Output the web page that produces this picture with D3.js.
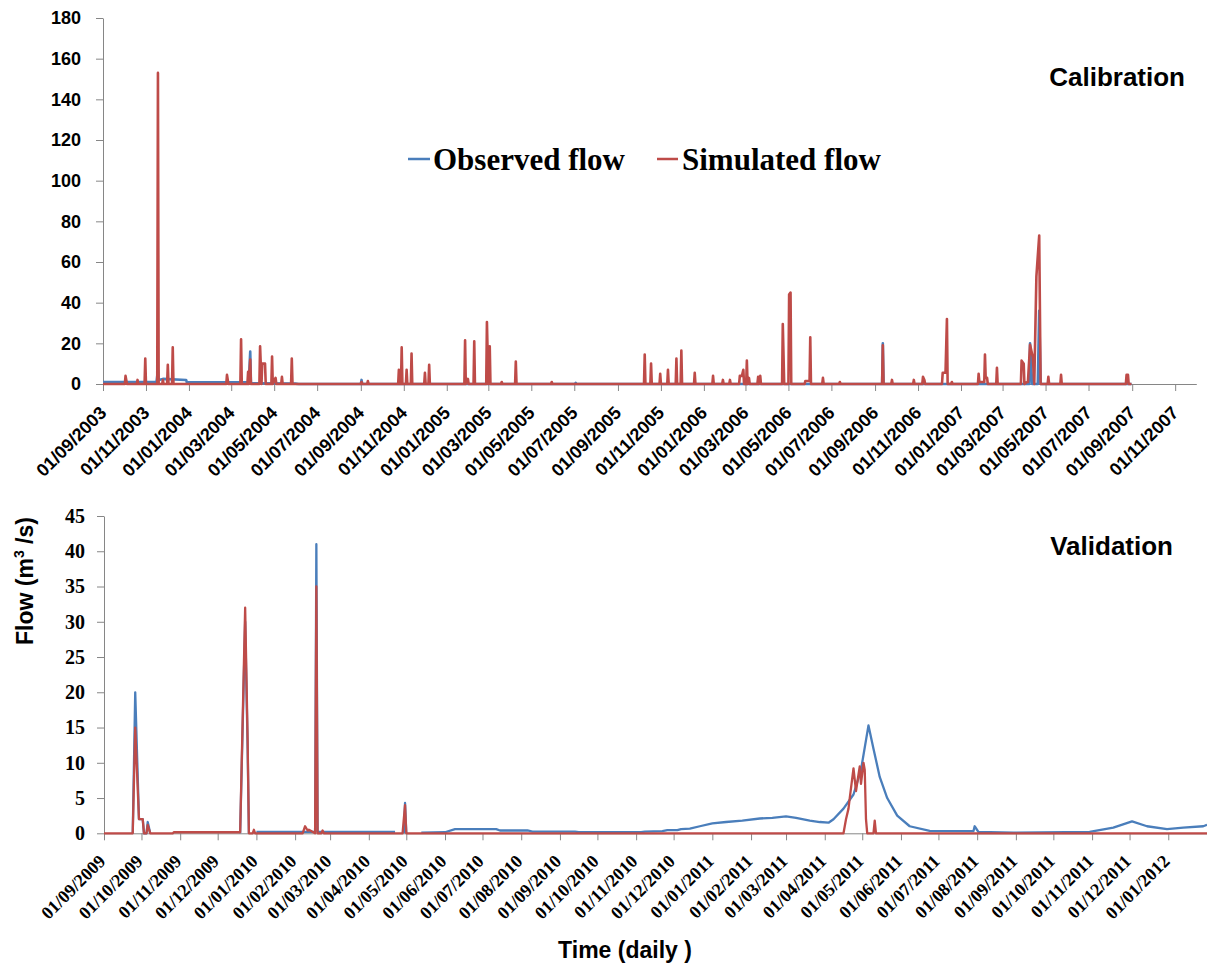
<!DOCTYPE html>
<html>
<head>
<meta charset="utf-8">
<script src="https://cdn.jsdelivr.net/npm/d3@7/dist/d3.min.js"></script>
<style>
  html, body { margin: 0; padding: 0; background: #fff; }
  svg { display: block; }
</style>
</head>
<body>
<svg id="chart" width="1207" height="967"></svg>
<script>
// ---- Calibration period (Sep 2003 – Aug 2007), daily flow in m3/s ----
const calTickLabels = [
  '01/09/2003','01/11/2003',
  '01/01/2004','01/03/2004','01/05/2004','01/07/2004','01/09/2004','01/11/2004',
  '01/01/2005','01/03/2005','01/05/2005','01/07/2005','01/09/2005','01/11/2005',
  '01/01/2006','01/03/2006','01/05/2006','01/07/2006','01/09/2006','01/11/2006',
  '01/01/2007','01/03/2007','01/05/2007','01/07/2007','01/09/2007','01/11/2007'
];
const calYTicks = [0, 20, 40, 60, 80, 100, 120, 140, 160, 180];

const calObserved = [
  ['2003-09-01',1],['2003-11-16',1],['2003-11-18',7],['2003-11-19',2],['2003-11-25',2.5],
  ['2003-12-28',2],['2003-12-29',0.8],['2004-03-26',0.8],['2004-03-28',16],['2004-03-29',0.4],
  ['2004-05-31',0.2],['2004-06-05',0],['2004-09-01',0],['2004-09-02',2],['2004-09-03',0],
  ['2005-07-02',0],['2005-07-03',0.6],['2005-07-04',0],
  ['2006-09-11',0],['2006-09-12',20],['2006-09-13',0],
  ['2007-04-08',0],['2007-04-09',20],['2007-04-12',0],['2007-04-20',0],['2007-04-22',36],['2007-04-24',0],
  ['2007-08-31',0]
];

const calSimulated = [
  ['2003-09-01',0],
  ['2003-10-02',0],['2003-10-03',4],['2003-10-05',0],
  ['2003-10-19',0],['2003-10-20',2],['2003-10-21',0],
  ['2003-10-30',0],['2003-10-31',12.5],['2003-11-01',0],
  ['2003-11-17',0],['2003-11-18',153],['2003-11-19',0],
  ['2003-11-24',0],['2003-11-25',2],['2003-11-26',0],
  ['2003-12-01',0],['2003-12-02',9.5],['2003-12-03',0],
  ['2003-12-08',0],['2003-12-09',18],['2003-12-10',0],
  ['2004-02-23',0],['2004-02-24',4.5],['2004-02-26',0],
  ['2004-03-14',0],['2004-03-15',22],['2004-03-16',0],
  ['2004-03-24',0],['2004-03-25',6],['2004-03-26',0],['2004-03-28',12],['2004-03-29',0],
  ['2004-04-10',0],['2004-04-11',18.5],['2004-04-13',0],['2004-04-14',10],['2004-04-18',10],['2004-04-19',0],
  ['2004-04-27',0],['2004-04-28',13.5],['2004-04-29',0],['2004-05-03',3],['2004-05-04',0],
  ['2004-05-11',0],['2004-05-12',3.5],['2004-05-13',0],
  ['2004-05-25',0],['2004-05-26',12.5],['2004-05-27',0],
  ['2004-09-01',0],['2004-09-02',1],['2004-09-03',0],['2004-09-10',0],['2004-09-11',1.5],['2004-09-12',0],
  ['2004-10-24',0],['2004-10-25',7],['2004-10-26',0],['2004-10-28',0],['2004-10-29',18],['2004-10-30',0],
  ['2004-11-04',0],['2004-11-05',7],['2004-11-06',0],['2004-11-11',0],['2004-11-12',15],['2004-11-13',0],
  ['2004-11-30',0],['2004-12-01',5.5],['2004-12-02',0],['2004-12-06',0],['2004-12-07',9.5],['2004-12-08',0],
  ['2005-01-26',0],['2005-01-27',21.5],['2005-01-28',0],['2005-01-31',2.5],['2005-02-01',0],
  ['2005-02-08',0],['2005-02-09',21],['2005-02-10',0],
  ['2005-02-26',0],['2005-02-27',30.5],['2005-03-01',0],['2005-03-03',18.5],['2005-03-04',0],
  ['2005-03-19',0],['2005-03-20',1],['2005-03-21',0],
  ['2005-04-08',0],['2005-04-09',11],['2005-04-10',0],
  ['2005-05-29',0],['2005-05-30',1],['2005-05-31',0],
  ['2005-10-08',0],['2005-10-09',14.5],['2005-10-10',0],
  ['2005-10-17',0],['2005-10-18',10],['2005-10-19',0],
  ['2005-10-30',0],['2005-10-31',5],['2005-11-01',0],
  ['2005-11-10',0],['2005-11-11',7],['2005-11-12',0],
  ['2005-11-22',0],['2005-11-23',12.5],['2005-11-24',0],['2005-11-29',0],['2005-11-30',16.5],['2005-12-01',0],
  ['2005-12-18',0],['2005-12-19',5.5],['2005-12-20',0],
  ['2006-01-13',0],['2006-01-14',4],['2006-01-15',0],
  ['2006-01-27',0],['2006-01-28',2],['2006-01-29',0],
  ['2006-02-06',0],['2006-02-07',2],['2006-02-08',0],
  ['2006-02-20',0],['2006-02-21',4],['2006-02-24',4],['2006-02-26',7],['2006-02-27',0],
  ['2006-03-02',0],['2006-03-03',11.5],['2006-03-04',0],['2006-03-06',3],['2006-03-07',0],
  ['2006-03-18',0],['2006-03-19',3.5],['2006-03-20',0],['2006-03-22',4],['2006-03-23',0],
  ['2006-04-22',0],['2006-04-23',29.5],['2006-04-25',0],
  ['2006-05-01',0],['2006-05-02',44],['2006-05-04',45],['2006-05-05',0],
  ['2006-05-24',0],['2006-05-25',1.5],['2006-05-31',1.5],['2006-06-01',23],['2006-06-02',0],
  ['2006-06-18',0],['2006-06-19',3],['2006-06-20',0],
  ['2006-07-12',0],['2006-07-13',1],['2006-07-14',0],
  ['2006-09-11',0],['2006-09-12',19],['2006-09-13',0],
  ['2006-09-24',0],['2006-09-25',2],['2006-09-26',0],
  ['2006-10-25',0],['2006-10-26',2],['2006-10-27',0],
  ['2006-11-07',0],['2006-11-08',3.5],['2006-11-10',2],['2006-11-11',0],
  ['2006-12-05',0],['2006-12-06',5.5],['2006-12-10',5.5],['2006-12-12',32],['2006-12-13',0],
  ['2006-12-18',0],['2006-12-19',1],['2006-12-20',0],
  ['2007-01-25',0],['2007-01-26',5],['2007-01-27',1],['2007-02-03',1],['2007-02-04',14.5],
  ['2007-02-05',3],['2007-02-07',3],['2007-02-08',0],
  ['2007-02-20',0],['2007-02-21',8],['2007-02-22',0],
  ['2007-03-27',0],['2007-03-28',11.5],['2007-03-31',10],['2007-04-01',0],
  ['2007-04-05',1],['2007-04-06',1],['2007-04-09',19.3],['2007-04-13',13],['2007-04-15',0],
  ['2007-04-18',53],['2007-04-22',73],['2007-04-24',0],
  ['2007-05-04',0],['2007-05-05',3.5],['2007-05-06',0],
  ['2007-05-22',0],['2007-05-23',4.5],['2007-05-24',0],
  ['2007-08-23',0],['2007-08-24',4.5],['2007-08-26',4.5],['2007-08-27',0],['2007-08-31',0]
];

// ---- Validation period (Sep 2009 – Jan 2012); null marks missing records ----
const valTickLabels = [
  '01/09/2009','01/10/2009','01/11/2009','01/12/2009',
  '01/01/2010','01/02/2010','01/03/2010','01/04/2010','01/05/2010','01/06/2010',
  '01/07/2010','01/08/2010','01/09/2010','01/10/2010','01/11/2010','01/12/2010',
  '01/01/2011','01/02/2011','01/03/2011','01/04/2011','01/05/2011','01/06/2011',
  '01/07/2011','01/08/2011','01/09/2011','01/10/2011','01/11/2011','01/12/2011',
  '01/01/2012'
];
const valYTicks = [0, 5, 10, 15, 20, 25, 30, 35, 40, 45];

const valObserved = [
  ['2009-09-24',0],['2009-09-26',20],['2009-09-29',2],['2009-10-02',2],['2009-10-03',0],
  ['2009-10-05',0],['2009-10-06',1.6],['2009-10-08',0],
  null,
  ['2009-12-19',0],['2009-12-23',30],['2009-12-25',12],['2009-12-26',0],
  null,
  ['2010-01-01',0.2],['2010-02-17',0.2],['2010-02-18',41],['2010-02-19',0.2],['2010-04-22',0.2],
  null,
  ['2010-04-29',0],['2010-04-30',4.3],['2010-05-01',0],
  null,
  ['2010-05-13',0.1],['2010-06-01',0.15],['2010-06-09',0.6],['2010-07-12',0.6],['2010-07-15',0.4],
  ['2010-08-06',0.4],['2010-08-10',0.25],['2010-09-13',0.25],['2010-09-16',0.15],['2010-11-05',0.15],
  ['2010-11-08',0.25],['2010-11-22',0.3],['2010-11-26',0.45],['2010-12-04',0.45],['2010-12-07',0.6],
  ['2010-12-14',0.65],['2010-12-22',1.0],['2011-01-01',1.4],['2011-01-12',1.6],['2011-01-25',1.8],
  ['2011-02-08',2.1],['2011-02-18',2.2],['2011-03-01',2.4],['2011-03-09',2.2],['2011-03-20',1.8],
  ['2011-03-28',1.6],['2011-04-04',1.5],['2011-04-08',2.0],['2011-04-16',3.5],['2011-04-24',5.5],
  ['2011-04-30',9],['2011-05-06',15.3],['2011-05-10',12],['2011-05-15',8],['2011-05-21',5],
  ['2011-05-29',2.5],['2011-06-08',1.0],['2011-06-24',0.35],['2011-07-29',0.3],['2011-07-30',1.0],
  ['2011-08-02',0.2],['2011-08-30',0.1],['2011-10-30',0.2],['2011-11-18',0.8],['2011-12-03',1.7],
  ['2011-12-15',1.0],['2011-12-31',0.6],['2012-01-13',0.8],['2012-01-29',1.0],['2012-02-01',1.2]
];

const valSimulated = [
  ['2009-09-01',0],['2009-09-24',0],['2009-09-26',15],['2009-09-29',2],['2009-10-02',2],['2009-10-03',0],
  ['2009-10-05',0],['2009-10-06',1.2],['2009-10-08',0],
  ['2009-10-26',0],['2009-10-27',0.15],['2009-12-19',0.15],['2009-12-23',32],['2009-12-25',13],
  ['2009-12-26',0],['2009-12-29',0],['2009-12-30',0.5],['2009-12-31',0],
  ['2010-02-07',0],['2010-02-09',1],['2010-02-11',0.4],['2010-02-12',0.5],['2010-02-17',0],
  ['2010-02-18',35],['2010-02-19',0],['2010-02-22',0],['2010-02-23',0.4],['2010-02-24',0],
  ['2010-04-28',0],['2010-04-30',4],['2010-05-01',0],
  ['2011-04-16',0],['2011-04-18',2],['2011-04-20',3.5],['2011-04-21',5],['2011-04-24',9.2],
  ['2011-04-26',6],['2011-04-29',9.5],['2011-04-30',7],['2011-05-02',10],['2011-05-03',9],
  ['2011-05-04',2],['2011-05-05',0],['2011-05-10',0],['2011-05-11',1.8],['2011-05-12',0],
  ['2012-02-01',0]
];

// ---- Drawing ----
const SANS = '"Liberation Sans", Arial, sans-serif';
const SERIF = '"Liberation Serif", "Times New Roman", serif';
const BLUE = '#4a7ebb';
const RED = '#be4b48';
const AXIS = '#868686';

const parseDay = d3.timeParse('%Y-%m-%d');
const parseTick = d3.timeParse('%d/%m/%Y');
const fmtTick = d3.timeFormat('%d/%m/%Y');

const svg = d3.select('#chart');
svg.append('rect').attr('width', 1207).attr('height', 967).attr('fill', '#fff');

function toPoints(series) {
  return series.map(p => p === null ? null : { date: parseDay(p[0]), value: p[1] });
}

function drawPanel(o) {
  const x = d3.scaleTime().domain(o.xDomain.map(parseDay)).range(o.xRange);
  const y = d3.scaleLinear().domain([0, d3.max(o.yTicks)]).range(o.yRange);
  const g = svg.append('g');

  // x axis with rotated date labels
  const xAxis = g.append('g')
    .attr('transform', `translate(0,${o.yRange[0]})`)
    .call(d3.axisBottom(x)
      .tickValues(o.xTicks.map(parseTick))
      .tickFormat(fmtTick)
      .tickSizeInner(7).tickSizeOuter(0));
  xAxis.select('.domain').attr('stroke', AXIS);
  xAxis.selectAll('.tick line').attr('stroke', AXIS);
  xAxis.selectAll('.tick text')
    .attr('x', o.labelDx).attr('y', o.labelDy).attr('dy', null)
    .attr('text-anchor', 'end')
    .attr('transform', `rotate(-45,${o.labelDx},${o.labelDy})`)
    .attr('font-family', o.xFont).attr('font-size', o.xSize)
    .attr('font-weight', 'bold').attr('fill', '#000');

  // y axis
  const yAxis = g.append('g')
    .attr('transform', `translate(${o.xRange[0]},0)`)
    .call(d3.axisLeft(y).tickValues(o.yTicks).tickSizeInner(7).tickSizeOuter(0).tickPadding(o.yPad));
  yAxis.select('.domain').attr('stroke', AXIS);
  yAxis.selectAll('.tick line').attr('stroke', AXIS);
  yAxis.selectAll('.tick text')
    .attr('font-family', o.yFont).attr('font-size', o.ySize)
    .attr('font-weight', 'bold').attr('fill', '#000');
  g.selectAll('.tick text').attr('fill', '#000');
  xAxis.attr('font-family', null); yAxis.attr('font-family', null);

  const line = d3.line()
    .defined(d => d !== null)
    .x(d => x(d.date))
    .y(d => y(d.value));

  g.append('path').datum(toPoints(o.observed))
    .attr('d', line).attr('fill', 'none')
    .attr('stroke', BLUE).attr('stroke-width', o.lineWidth)
    .attr('stroke-linejoin', 'round');
  g.append('path').datum(toPoints(o.simulated))
    .attr('d', line).attr('fill', 'none')
    .attr('stroke', RED).attr('stroke-width', o.lineWidth)
    .attr('stroke-linejoin', 'round');

  g.append('text')
    .attr('x', o.title[1]).attr('y', o.title[2])
    .attr('text-anchor', 'end')
    .attr('font-family', SANS).attr('font-size', 26).attr('font-weight', 'bold')
    .text(o.title[0]);
}

drawPanel({
  xDomain: ['2003-09-01', '2007-12-01'], xRange: [103, 1196.3],
  yRange: [384, 18], yTicks: calYTicks, xTicks: calTickLabels,
  observed: calObserved, simulated: calSimulated,
  xFont: SANS, xSize: 18, labelDx: 4, labelDy: 30,
  yFont: SANS, ySize: 18, yPad: 15,
  lineWidth: 2.6, title: ['Calibration', 1185, 86]
});

drawPanel({
  xDomain: ['2009-09-01', '2012-02-01'], xRange: [104, 1207],
  yRange: [833.3, 516], yTicks: valYTicks, xTicks: valTickLabels,
  observed: valObserved, simulated: valSimulated,
  xFont: SERIF, xSize: 18, labelDx: 2, labelDy: 29,
  yFont: SERIF, ySize: 20, yPad: 12,
  lineWidth: 2.3, title: ['Validation', 1173, 555]
});

// legend
const legend = svg.append('g').attr('font-family', SERIF).attr('font-size', 31).attr('font-weight', 'bold');
[[BLUE, 408, 430, 'Observed flow', 433], [RED, 657, 678, 'Simulated flow', 682]].forEach(e => {
  legend.append('line').attr('x1', e[1]).attr('x2', e[2]).attr('y1', 159).attr('y2', 159)
    .attr('stroke', e[0]).attr('stroke-width', 2.5);
  legend.append('text').attr('x', e[4]).attr('y', 170).text(e[3]);
});

// axis titles
const yTitle = svg.append('text')
  .attr('transform', 'translate(33,581) rotate(-90)')
  .attr('text-anchor', 'middle')
  .attr('font-family', SANS).attr('font-size', 23).attr('font-weight', 'bold');
yTitle.append('tspan').text('Flow (m');
yTitle.append('tspan').attr('font-size', 14).attr('dy', -9).text('3');
yTitle.append('tspan').attr('dy', 9).text(' /s)');

svg.append('text')
  .attr('x', 625).attr('y', 958).attr('text-anchor', 'middle')
  .attr('font-family', SANS).attr('font-size', 23).attr('font-weight', 'bold')
  .text('Time (daily )');
</script>
</body>
</html>
